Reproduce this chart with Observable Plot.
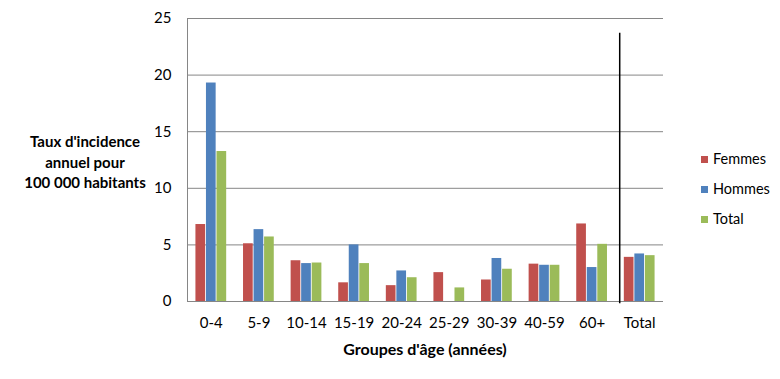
<!DOCTYPE html>
<html>
<head>
<meta charset="utf-8">
<script src="https://cdn.jsdelivr.net/npm/d3@7"></script>
<script src="https://cdn.jsdelivr.net/npm/@observablehq/plot@0.6"></script>
<style>
  html, body { margin: 0; padding: 0; background: #fff; }
  #chart { position: relative; width: 780px; height: 379px; font-family: Lato, "Open Sans", sans-serif; color: #000; }
  #chart > svg { position: absolute; left: 0; top: 0; }
  .ytitle { position: absolute; left: 5px; width: 160px; top: 131px; text-align: center; font-weight: bold; font-size: 15px; line-height: 20.5px; }
  .xtitle { position: absolute; left: 187px; width: 476px; top: 339px; text-align: center; font-weight: bold; font-size: 16px; }
  .legend { position: absolute; left: 701px; top: 148px; font-size: 14.5px; }
  .legend div { height: 30px; line-height: 22px; white-space: nowrap; }
  .legend span.sw { display: inline-block; width: 7px; height: 7px; margin-right: 5px; vertical-align: 1px; }
</style>
</head>
<body>
<div id="chart"></div>
<script>
const categories = ["0-4", "5-9", "10-14", "15-19", "20-24", "25-29", "30-39", "40-59", "60+", "Total"];
const series = ["Femmes", "Hommes", "Total"];
const femmes = [6.8, 5.1, 3.6, 1.65, 1.4, 2.55, 1.9, 3.3, 6.85, 3.9];
const hommes = [19.3, 6.35, 3.35, 5.0, 2.7, 0, 3.8, 3.2, 3.0, 4.2];
const total  = [13.25, 5.7, 3.4, 3.35, 2.1, 1.2, 2.85, 3.2, 5.05, 4.05];
const colors = ["#C0504D", "#4F81BD", "#9BBB59"];
const yTicks = [0, 5, 10, 15, 20, 25];
const separatorX = 9.08;   // position of the vertical separator, in group index units
const separatorTop = 23.7; // top of the separator, in data units

const values = [femmes, hommes, total];
const table = [];
categories.forEach((c, i) => series.forEach((s, j) => table.push({group: c, series: s, value: values[j][i]})));

const W = 780, H = 379;
const margins = {marginLeft: 187, marginRight: 117, marginTop: 18, marginBottom: 78};
const font = "Lato, 'Open Sans', sans-serif";

// Background: grid, axes labels, separator
const bg = Plot.plot({
  width: W, height: H, ...margins,
  style: {fontFamily: font, background: "transparent", overflow: "visible"},
  x: {domain: [0, categories.length], axis: null},
  y: {domain: [0, 25], axis: null},
  marks: [
    Plot.ruleY(yTicks, {stroke: "#868686", strokeWidth: 1}),
    Plot.ruleX([0], {y1: 0, y2: 25, stroke: "#868686", strokeWidth: 1}),
    Plot.ruleX([separatorX], {y1: -0.2, y2: separatorTop, stroke: "#000", strokeWidth: 1.5}),
    Plot.text(yTicks, {x: 0, y: d => d, dx: -16, textAnchor: "end", fontSize: 15, fill: "#000", text: d => String(d)}),
    Plot.text(categories, {x: (d, i) => i + 0.5, y: 0, dy: 22, fontSize: 15, fill: "#000", text: d => d})
  ]
});

// Foreground: grouped bars
const fg = Plot.plot({
  width: W, height: H, ...margins,
  style: {fontFamily: font, background: "transparent"},
  facet: {data: table, x: "group", marginTop: 0, marginBottom: 0, marginLeft: 0, marginRight: 0},
  fx: {domain: categories, padding: 0, round: false, axis: null, label: null},
  x: {domain: series, paddingInner: 0.08, paddingOuter: 0.8, round: false, axis: null},
  y: {domain: [0, 25], axis: null},
  color: {domain: series, range: colors},
  marks: [
    Plot.barY(table, {x: "series", y: "value", fill: "series"})
  ]
});

const chart = document.getElementById("chart");
chart.appendChild(bg);
chart.appendChild(fg);

const yt = document.createElement("div");
yt.className = "ytitle";
yt.innerHTML = "Taux d'incidence<br>annuel pour<br>100 000 habitants";
chart.appendChild(yt);

const xt = document.createElement("div");
xt.className = "xtitle";
xt.textContent = "Groupes d'âge (années)";
chart.appendChild(xt);

const lg = document.createElement("div");
lg.className = "legend";
series.forEach((s, j) => {
  const row = document.createElement("div");
  const sw = document.createElement("span");
  sw.className = "sw";
  sw.style.background = colors[j];
  row.appendChild(sw);
  row.appendChild(document.createTextNode(s));
  lg.appendChild(row);
});
chart.appendChild(lg);
</script>
</body>
</html>
